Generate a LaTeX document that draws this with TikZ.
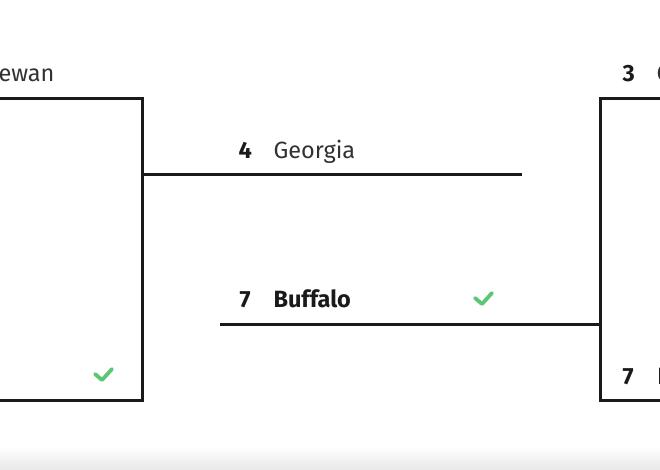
\documentclass[tikz,border=0pt]{standalone}
\usepackage{fontspec}
\setmainfont{Fira Sans}
\usepackage{xcolor}
\usetikzlibrary{calc}
\usetikzlibrary{positioning}
\definecolor{lineBlack}{RGB}{26,26,26}
\definecolor{teamGrey}{RGB}{50,50,50}
\definecolor{winGreen}{RGB}{92,198,118}

\begin{document}
\begin{tikzpicture}[x=1pt, y=-1pt, line width=3pt, lineBlack]
 				 \tikzstyle{team}=[anchor=base west, inner sep=0pt, font=\fontsize{23.5}{28}\selectfont, text=teamGrey]
 				 \tikzstyle{seed}=[team, font=\fontsize{23.5}{28}\selectfont\bfseries, text=lineBlack]
 				 \tikzstyle{tick}=[draw=winGreen, line width=3.8pt, line cap=round, line join=round]
 				 \useasboundingbox (0,0) rectangle (660,470);
 				 \clip (0,0) rectangle (660,470);
 				 \shade[top color=white, bottom color=black!9, draw=none] (0,446) rectangle (660,470);
 				 % left bracket
 					 \coordinate (LT) at (0,99);
 					 \coordinate (LTR) at (142,99);
 					 \coordinate (LBR) at (142,400);
 					 \coordinate (LB) at (0,400);
 					 \coordinate (LM) at (142,175);
 				 % right bracket
 					 \coordinate (RT) at (660,99);
 					 \coordinate (RTL) at (600,99);
 					 \coordinate (RBL) at (600,400);
 					 \coordinate (RB) at (660,400);
 					 \coordinate (RM) at (600,324);
 				 % middle lines
 					 \coordinate (GA) at (522,175);
 					 \coordinate (BU) at (220,324);
 				 \node[team]	(sask)	at (-3,82)	{ewan};
 				 \node[seed]	(s3)	at (621,82)	{3};
 				 \node[team]	(c3)	at (655,82)	{C};
 				 \node[seed]	(s4)	at (237,159)	{4};
 				 \node[team]	(geo)	at (272,159)	{Georgia};
 				 \node[seed]	(s7)	at (238,307)	{7};
 				 \node[seed]	(buf)	at (272,307)	{Buffalo};
 				 \node[seed]	(s7r)	at (621,384)	{7};
 				 \node[seed]	(i7)	at (656,384)	{I};
 				 \draw[line join=miter] (LT) -- (LTR) -- (LBR) -- (LB);
 				 \draw[line join=miter] (RT) -- (RTL) -- (RBL) -- (RB);
 				 \path[draw]
 					 (LM) -- (GA)
 					 (BU) -- (RM);
 				 \draw[tick] (95,374) -- ++(7,6) -- ++(10,-11);
 				 \draw[tick] (475,298) -- ++(7,6) -- ++(10,-11);
\end{tikzpicture}
\end{document}
